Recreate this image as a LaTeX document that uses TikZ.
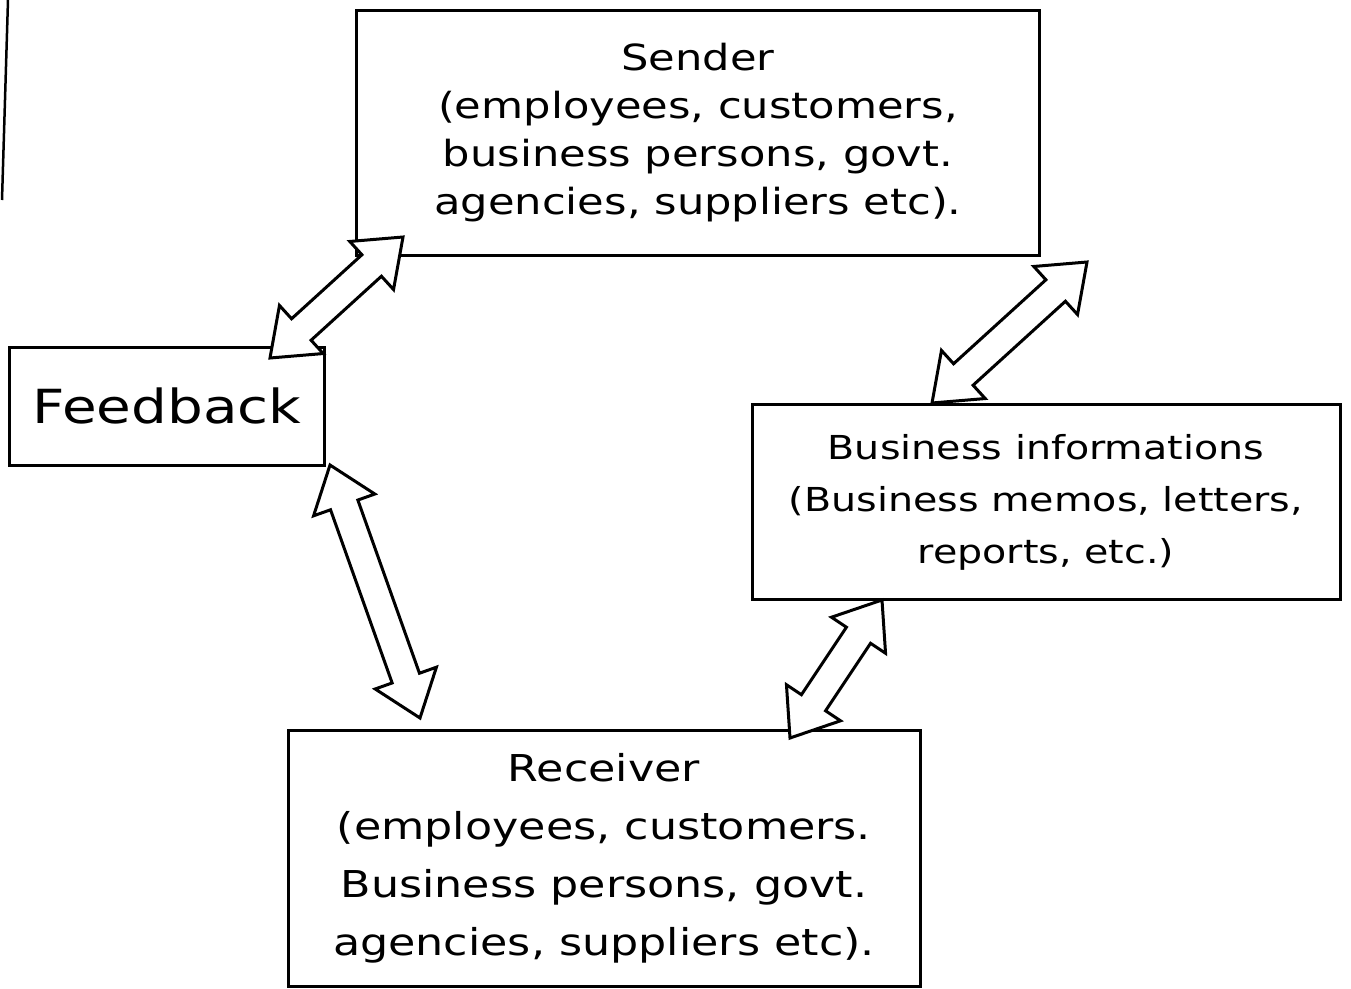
\documentclass[tikz,border=0pt]{standalone}
\usepackage{fontspec}
\setmainfont{DejaVu Sans}[FakeStretch=1.2]
\usetikzlibrary{calc,shapes.arrows}
\tikzset{
  box/.style={draw, line width=3pt, rectangle, inner sep=0pt, align=center, font=\fontsize{36}{48}\selectfont},
  dblarrow/.style={draw, line width=3pt, fill=white, shape=double arrow, inner xsep=0pt, inner ysep=13pt,
    double arrow head extend=18pt, double arrow tip angle=75, minimum width=0pt},
  edge/.style={line width=2.5pt}
}
\newcommand\dblarr[3]{%
  \path let \p1=($(#3)-(#2)$), \n1={atan2(\y1,\x1)}, \n2={veclen(\x1,\y1)} in
    node[dblarrow, rotate=\n1, minimum height=\n2] (#1) at ($(#2)!0.5!(#3)$) {};}
\begin{document}
\begin{tikzpicture}[x=1pt,y=-1pt]
\useasboundingbox (0,0) rectangle (1351,988);
\fill[white] (0,0) rectangle (1351,988);
\coordinate (et) at (8,0);
\coordinate (eb) at (2,200);
\draw[edge] (et) -- (eb);

\node[box, minimum width=683pt, minimum height=245pt] (sender) at (698,133)
  {Sender\\(employees, customers,\\business persons, govt.\\agencies, suppliers etc).};
\node[box, minimum width=315pt, minimum height=118pt, font=\fontsize{47}{50}\selectfont] (feedback) at (167,406) {Feedback};
\node[box, minimum width=588pt, minimum height=195pt, font=\fontsize{33}{52}\selectfont] (business) at (1046,502)
  {Business informations\\(Business memos, letters,\\reports, etc.)};
\node[box, minimum width=632pt, minimum height=256pt, font=\fontsize{37}{58}\selectfont] (receiver) at (604,858)
  {Receiver\\(employees, customers.\\Business persons, govt.\\agencies, suppliers etc).};

\coordinate (a1) at (403,237);
\coordinate (a2) at (270,358);
\coordinate (b1) at (1087,262);
\coordinate (b2) at (932,403);
\coordinate (c1) at (330,465);
\coordinate (c2) at (420,718);
\coordinate (d1) at (882,600);
\coordinate (d2) at (790,738);
\dblarr{sf}{a1}{a2}
\dblarr{sb}{b1}{b2}
\dblarr{fr}{c1}{c2}
\dblarr{br}{d1}{d2}
\end{tikzpicture}
\end{document}
